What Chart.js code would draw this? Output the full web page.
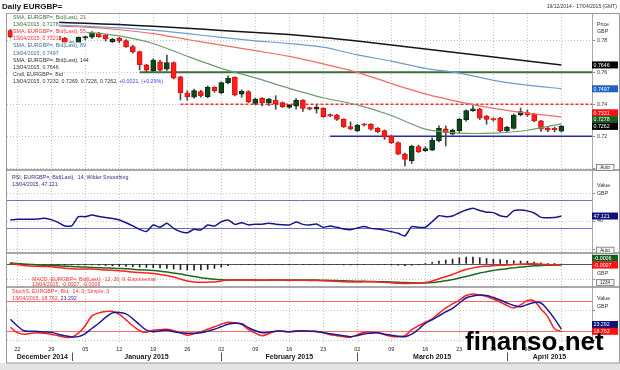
<!DOCTYPE html>
<html>
<head>
<meta charset="utf-8">
<title>Daily EURGBP=</title>
<script src="https://cdn.jsdelivr.net/npm/chart.js@4.4.1/dist/chart.umd.min.js"></script>
<style>
  html, body { margin: 0; padding: 0; background: #fff; }
  #wrap { width: 620px; height: 370px; position: relative; }
  canvas { display: block; }
</style>
</head>
<body>
<div id="wrap"><canvas id="chart" width="620" height="370"></canvas></div>
<script>
// trading days shown on the axis (last four are still empty)
const dates = [
  '19/12/2014',
  '22/12/2014', '23/12/2014', '24/12/2014', '25/12/2014', '26/12/2014',
  '29/12/2014', '30/12/2014', '31/12/2014', '01/01/2015', '02/01/2015',
  '05/01/2015', '06/01/2015', '07/01/2015', '08/01/2015', '09/01/2015',
  '12/01/2015', '13/01/2015', '14/01/2015', '15/01/2015', '16/01/2015',
  '19/01/2015', '20/01/2015', '21/01/2015', '22/01/2015', '23/01/2015',
  '26/01/2015', '27/01/2015', '28/01/2015', '29/01/2015', '30/01/2015',
  '02/02/2015', '03/02/2015', '04/02/2015', '05/02/2015', '06/02/2015',
  '09/02/2015', '10/02/2015', '11/02/2015', '12/02/2015', '13/02/2015',
  '16/02/2015', '17/02/2015', '18/02/2015', '19/02/2015', '20/02/2015',
  '23/02/2015', '24/02/2015', '25/02/2015', '26/02/2015', '27/02/2015',
  '02/03/2015', '03/03/2015', '04/03/2015', '05/03/2015', '06/03/2015',
  '09/03/2015', '10/03/2015', '11/03/2015', '12/03/2015', '13/03/2015',
  '16/03/2015', '17/03/2015', '18/03/2015', '19/03/2015', '20/03/2015',
  '23/03/2015', '24/03/2015', '25/03/2015', '26/03/2015', '27/03/2015',
  '30/03/2015', '31/03/2015', '01/04/2015', '02/04/2015', '03/04/2015',
  '06/04/2015', '07/04/2015', '08/04/2015', '09/04/2015', '10/04/2015',
  '13/04/2015', '14/04/2015', '15/04/2015', '16/04/2015', '17/04/2015'
];

const weekTicks = ['22/12/2014', '29/12/2014', '05/01/2015', '12/01/2015', '19/01/2015', '26/01/2015',
  '02/02/2015', '09/02/2015', '16/02/2015', '23/02/2015', '02/03/2015', '09/03/2015', '16/03/2015',
  '23/03/2015', '30/03/2015', '06/04/2015', '13/04/2015'];
const weekTickLabels = ['22', '29', '05', '12', '19', '26', '02', '09', '16', '23', '02', '09', '16', '23', '30', '06', '13'];

const monthNames = ['December 2014', 'January 2015', 'February 2015', 'March 2015', 'April 2015'];
const monthStarts = ['19/12/2014', '01/01/2015', '02/02/2015', '02/03/2015', '01/04/2015'];

// candles
const open = [
  0.7860, 0.7822, 0.7848, 0.7832, 0.7840, 0.7838, 0.7830, 0.7827, 0.7814, 0.7783,
  0.7777, 0.7815, 0.7819, 0.7845, 0.7833, 0.7792, 0.7812, 0.7798, 0.7760, 0.7729,
  0.7646, 0.7610, 0.7666, 0.7619, 0.7660, 0.7571, 0.7470, 0.7444, 0.7479, 0.7448,
  0.7506, 0.7473, 0.7535, 0.7569, 0.7464, 0.7479, 0.7406, 0.7438, 0.7410, 0.7427,
  0.7410, 0.7381, 0.7389, 0.7427, 0.7379, 0.7369, 0.7375, 0.7330, 0.7333, 0.7306,
  0.7261, 0.7233, 0.7274, 0.7275, 0.7250, 0.7235, 0.7202, 0.7160, 0.7089, 0.7048,
  0.7135, 0.7110, 0.7114, 0.7171, 0.7246, 0.7214, 0.7235, 0.7302, 0.7360, 0.7369,
  0.7327, 0.7308, 0.7312, 0.7235, 0.7250, 0.7333, 0.7348, 0.7338, 0.7296, 0.7250,
  0.7250, 0.7232
];
const high = [
  0.7868, 0.7855, 0.7862, 0.7848, 0.7845, 0.7850, 0.7845, 0.7833, 0.7818, 0.7790,
  0.7822, 0.7827, 0.7855, 0.7850, 0.7836, 0.7812, 0.7818, 0.7805, 0.7768, 0.7733,
  0.7650, 0.7685, 0.7675, 0.7708, 0.7665, 0.7575, 0.7485, 0.7495, 0.7487, 0.7515,
  0.7510, 0.7540, 0.7578, 0.7572, 0.7490, 0.7485, 0.7440, 0.7442, 0.7437, 0.7454,
  0.7415, 0.7400, 0.7435, 0.7430, 0.7382, 0.7395, 0.7378, 0.7340, 0.7338, 0.7310,
  0.7290, 0.7275, 0.7280, 0.7280, 0.7255, 0.7240, 0.7205, 0.7165, 0.7095, 0.7145,
  0.7145, 0.7135, 0.7190, 0.7265, 0.7265, 0.7245, 0.7312, 0.7365, 0.7392, 0.7375,
  0.7332, 0.7315, 0.7318, 0.7262, 0.7340, 0.7377, 0.7365, 0.7345, 0.7300, 0.7260,
  0.7258, 0.7269
];
const low = [
  0.7815, 0.7815, 0.7825, 0.7822, 0.7834, 0.7825, 0.7818, 0.7798, 0.7780, 0.7778,
  0.7770, 0.7802, 0.7812, 0.7818, 0.7795, 0.7786, 0.7785, 0.7755, 0.7720, 0.7615,
  0.7600, 0.7605, 0.7608, 0.7612, 0.7558, 0.7427, 0.7425, 0.7438, 0.7445, 0.7440,
  0.7475, 0.7465, 0.7528, 0.7452, 0.7444, 0.7410, 0.7395, 0.7390, 0.7392, 0.7369,
  0.7380, 0.7375, 0.7370, 0.7355, 0.7365, 0.7345, 0.7318, 0.7322, 0.7300, 0.7255,
  0.7240, 0.7228, 0.7265, 0.7238, 0.7222, 0.7180, 0.7155, 0.7085, 0.7015, 0.7030,
  0.7098, 0.7105, 0.7110, 0.7165, 0.7140, 0.7208, 0.7220, 0.7295, 0.7355, 0.7305,
  0.7275, 0.7295, 0.7228, 0.7228, 0.7245, 0.7328, 0.7325, 0.7290, 0.7230, 0.7228,
  0.7228, 0.7226
];
const close = [
  0.7822, 0.7848, 0.7832, 0.7840, 0.7838, 0.7830, 0.7826, 0.7802, 0.7783, 0.7785,
  0.7819, 0.7817, 0.7847, 0.7822, 0.7808, 0.7806, 0.7796, 0.7760, 0.7729, 0.7646,
  0.7614, 0.7677, 0.7614, 0.7660, 0.7563, 0.7473, 0.7448, 0.7485, 0.7452, 0.7506,
  0.7485, 0.7535, 0.7563, 0.7458, 0.7483, 0.7416, 0.7433, 0.7410, 0.7433, 0.7402,
  0.7385, 0.7394, 0.7427, 0.7375, 0.7369, 0.7381, 0.7323, 0.7328, 0.7306, 0.7260,
  0.7246, 0.7270, 0.7270, 0.7244, 0.7229, 0.7195, 0.7160, 0.7089, 0.7056, 0.7139,
  0.7104, 0.7123, 0.7177, 0.7250, 0.7222, 0.7239, 0.7306, 0.7360, 0.7371, 0.7313,
  0.7306, 0.7303, 0.7235, 0.7256, 0.7333, 0.7354, 0.7333, 0.7298, 0.7244, 0.7239,
  0.7241, 0.7262
];

// moving averages at these days
const smaPeriods = [21, 55, 89, 144];
const smaDates = ['29/12/2014', '05/01/2015', '12/01/2015', '19/01/2015', '26/01/2015',
  '02/02/2015', '09/02/2015', '16/02/2015', '23/02/2015', '02/03/2015', '09/03/2015', '16/03/2015',
  '23/03/2015', '30/03/2015', '06/04/2015', '13/04/2015'];
const sma21 = [0.7848, 0.7850, 0.7828, 0.7780, 0.7700, 0.7625, 0.7565, 0.7500, 0.7441,
  0.7396, 0.7330, 0.7245, 0.7220, 0.7220, 0.7238, 0.7278];
const sma55 = [0.7890, 0.7882, 0.7866, 0.7842, 0.7805, 0.7770, 0.7735, 0.7700, 0.7653,
  0.7600, 0.7530, 0.7465, 0.7415, 0.7375, 0.7345, 0.7321];
const sma89 = [0.7897, 0.7888, 0.7878, 0.7864, 0.7842, 0.7818, 0.7797, 0.7780, 0.7757,
  0.7709, 0.7670, 0.7625, 0.7595, 0.7550, 0.7520, 0.7497];
const sma144 = [0.7914, 0.7906, 0.7898, 0.7888, 0.7876, 0.7862, 0.7849, 0.7836, 0.7818,
  0.7795, 0.7770, 0.7745, 0.7720, 0.7696, 0.7671, 0.7646];

// drawn lines on the price pane
const priceLevels = [0.76, 0.74, 0.72];
const priceLevelFrom = ['15/01/2015', '23/01/2015', '24/02/2015'];
const priceTicks = ['0.78', '0.77', '0.76', '0.75', '0.74', '0.73', '0.72', '0.71'];

// RSI 14
const rsi = [
  41.5, 42.4, 42.4, 42.4, 43, 43.8, 42, 38, 33, 33,
  46.2, 46.2, 48.6, 46.5, 45, 43.5, 41.4, 37.5, 33, 28,
  25, 34.3, 31, 36.7, 29.5, 24.8, 23.3, 28.1, 27.1, 34.3,
  32.9, 39, 41.4, 35.2, 37.6, 34.5, 35.5, 35.5, 36.7, 35.5,
  34.8, 34.3, 38.5, 35.2, 34.3, 35.7, 31, 32.9, 31, 28.5,
  27.5, 30, 32, 29.5, 28.5, 27, 24.8, 22.4, 18.6, 31.9,
  31, 31, 39, 47.6, 46.2, 47.1, 51.9, 55.7, 58.1, 55,
  52.6, 52, 47.5, 46.2, 54.8, 55.7, 54.5, 51.5, 45.2, 44.8,
  45, 47.121
];
const rsiBands = [70, 30];
const rsiTicks = ['20', '40', '60'];

// MACD 12, 26, 9
const macd = [
  0.0010, -0.0003, -0.0010, -0.0013, -0.0015, -0.0016, -0.0017, -0.0023, -0.0027, -0.0030,
  -0.0032, -0.0032, -0.0032, -0.0035, -0.0039, -0.0041, -0.0043, -0.0047, -0.0052, -0.0055,
  -0.0058, -0.0061, -0.0068, -0.0074, -0.0084, -0.0097, -0.0110, -0.0116, -0.0118, -0.0117,
  -0.0116, -0.0110, -0.0103, -0.0103, -0.0103, -0.0104, -0.0104, -0.0105, -0.0104, -0.0104,
  -0.0105, -0.0106, -0.0105, -0.0105, -0.0106, -0.0106, -0.0108, -0.0110, -0.0112, -0.0114,
  -0.0116, -0.0116, -0.0115, -0.0115, -0.0116, -0.0118, -0.0121, -0.0124, -0.0126, -0.0125,
  -0.0124, -0.0120, -0.0110, -0.0095, -0.0082, -0.0068, -0.0050, -0.0036, -0.0025, -0.0017,
  -0.0014, -0.0011, -0.0008, -0.0007, -0.0004, -0.0001, 0.0001, 0.0001, -0.0002, -0.0004,
  -0.0006, -0.0007
];
const signal = [
  0.0006, 0.0004, 0.0000, -0.0003, -0.0006, -0.0008, -0.0010, -0.0012, -0.0014, -0.0016,
  -0.0018, -0.0020, -0.0022, -0.0024, -0.0026, -0.0027, -0.0029, -0.0031, -0.0034, -0.0037,
  -0.0039, -0.0042, -0.0046, -0.0051, -0.0058, -0.0065, -0.0073, -0.0081, -0.0088, -0.0094,
  -0.0099, -0.0102, -0.0103, -0.0103, -0.0103, -0.0103, -0.0103, -0.0104, -0.0104, -0.0104,
  -0.0104, -0.0104, -0.0104, -0.0104, -0.0104, -0.0104, -0.0105, -0.0106, -0.0107, -0.0108,
  -0.0110, -0.0111, -0.0112, -0.0113, -0.0114, -0.0115, -0.0116, -0.0118, -0.0120, -0.0121,
  -0.0122, -0.0122, -0.0120, -0.0114, -0.0108, -0.0100, -0.0090, -0.0080, -0.0070, -0.0058,
  -0.0050, -0.0042, -0.0036, -0.0030, -0.0025, -0.0020, -0.0016, -0.0012, -0.0009, -0.0008,
  -0.0007, -0.0006
];
const macdHist = [
  0.0002, -0.0003, -0.0005, -0.0005, -0.0005, -0.0005, -0.0005, -0.0005, -0.0006, -0.0006,
  -0.0006, -0.0006, -0.0006, -0.0008, -0.0010, -0.0012, -0.0014, -0.0016, -0.0018, -0.0020,
  -0.0022, -0.0024, -0.0026, -0.0028, -0.0032, -0.0036, -0.0040, -0.0040, -0.0038, -0.0034,
  -0.0028, -0.0020, -0.0010, -0.0003, -0.0002, -0.0002, -0.0002, -0.0002, -0.0002, -0.0002,
  -0.0002, -0.0002, -0.0002, -0.0002, -0.0002, -0.0002, -0.0003, -0.0004, -0.0005, -0.0006,
  -0.0006, -0.0005, -0.0004, -0.0003, -0.0003, -0.0004, -0.0006, -0.0008, -0.0010, -0.0008,
  -0.0005, 0.0002, 0.0010, 0.0019, 0.0026, 0.0032, 0.0040, 0.0044, 0.0045, 0.0041,
  0.0036, 0.0031, 0.0028, 0.0023, 0.0021, 0.0019, 0.0017, 0.0013, 0.0007, 0.0004,
  0.0001, -0.0001
];

// slow stochastic 14, 3, 3
const stochK = [
  27, 16, 13, 15, 16, 15, 13, 10, 7, 7,
  15, 30, 50, 56, 59, 59, 53, 42, 30, 20,
  17, 21, 22, 23, 20, 16, 11, 14, 18, 23,
  28, 33, 37, 36, 33, 22, 15, 10, 14, 19,
  19, 18, 20, 19, 19, 19, 16, 12, 10, 8,
  7, 12, 17, 17, 16, 12, 9, 8, 10, 22,
  30, 37, 44, 55, 66, 74, 82, 91, 94, 92,
  89, 84, 78, 71, 66, 72, 81, 80, 64, 48,
  24, 18.762
];
const stochD = [
  43, 30, 20, 19, 18.5, 17.5, 16.8, 13, 10, 7.5,
  8, 14, 25, 35, 47, 56, 57, 54, 44, 32,
  21, 18, 19.5, 21, 18, 16, 15, 15, 16, 19,
  23, 28, 33, 35, 34, 26, 20, 16, 17, 19,
  19, 18, 19, 20, 19, 18, 16, 14, 12, 10,
  8, 10, 13.5, 15, 16, 13, 11, 9, 8, 13,
  23, 35, 42, 50, 58, 65, 76, 86, 90, 92,
  91, 87, 82, 76, 71, 68.5, 73, 77, 76, 62,
  44, 23.292
];
const stochBands = [80, 20];

// ---- styles
const FONT = '"Liberation Sans", Arial, Helvetica, sans-serif';
const UP = '#0c461b', UP_EDGE = '#05260c', DOWN = '#ff1c1c', DOWN_EDGE = '#e80000';
const smaColors = ['#6f9b6f', '#f36a6a', '#6c9bd2', '#161616'];
const smaText = ['#3f6f3f', '#ff3030', '#3a6ea8', '#333333'];
const smaBox = ['#195c1c', '#ff1010', '#1f62c2', '#000000'];
const levelStyle = [
  { color: '#3d6e3d', width: 2, dash: [] },
  { color: '#ff2a2a', width: 1.6, dash: [3, 2] },
  { color: '#2b2ba6', width: 1.6, dash: [] }
];
const GRID = '#c4c4c4';

const f = (size, bold) => (bold ? 'bold ' : '') + size + 'px ' + FONT;
const n = dates.length;
const last = close.length - 1;
const lastDate = dates[last];
const weekIdx = new Set(weekTicks.map(d => dates.indexOf(d)));

function sparse(days, values) {
  const out = new Array(n).fill(null);
  days.forEach((d, k) => { out[dates.indexOf(d)] = values[k]; });
  return out;
}
const smaSeries = [sma21, sma55, sma89, sma144];

const priceAxis = {
  position: 'right', stack: 'panes', stackWeight: 156, weight: 1,
  min: 0.69894, max: 0.79644,
  ticks: {
    stepSize: 0.01, includeBounds: false, padding: 2, color: '#333', font: { size: 5.3, family: FONT },
    callback: v => { const s = Number(v).toFixed(2); return priceTicks.includes(s) ? s : ''; }
  }
};
const rsiAxis = {
  position: 'right', stack: 'panes', stackWeight: 83, weight: 2,
  min: -5.7, max: 112.9,
  ticks: {
    stepSize: 20, includeBounds: false, padding: 2, color: '#333', font: { size: 5.3, family: FONT },
    callback: v => rsiTicks.includes(String(v)) ? String(v) : ''
  }
};
const macdAxis = {
  position: 'right', stack: 'panes', stackWeight: 34, weight: 3,
  min: -0.01484, max: 0.0071,
  ticks: { stepSize: 0.01, includeBounds: false, callback: () => '' }
};
const stochAxis = {
  position: 'right', stack: 'panes', stackWeight: 56, weight: 4,
  min: -4.85, max: 108.3,
  ticks: { stepSize: 20, includeBounds: false, callback: () => '' }
};
[priceAxis, rsiAxis, macdAxis, stochAxis].forEach(ax => {
  ax.grid = { color: GRID, lineWidth: 1, drawTicks: true, tickLength: 3, tickColor: '#8a8a8a', tickBorderDash: [] };
  ax.border = { display: true, color: '#a8a8a8', dash: [1, 2] };
  ax.afterFit = s => { s.width = 28; };
});

function textRun(ctx, parts, x, y, bgFrom) {
  let cx = x;
  parts.forEach(([text, color], k) => {
    const w = ctx.measureText(text).width;
    if (bgFrom !== undefined) {
      const bx = k === 0 ? Math.min(bgFrom, cx - 0.5) : cx - 0.5;
      ctx.fillStyle = '#fff';
      ctx.fillRect(bx, y - 3.6, cx + w + 0.5 - bx, 7.2);
    }
    ctx.fillStyle = color;
    ctx.fillText(text, cx, y);
    cx += w;
  });
}

function valueBoxes(ctx, scale, items, x, w) {
  const h = 7, gap = 6.8;
  const list = items.map(it => Object.assign({}, it, { y: scale.getPixelForValue(it.value) }))
    .sort((a, b) => a.y - b.y);
  for (let i = list.length - 2; i >= 0; i--) list[i].y = Math.min(list[i].y, list[i + 1].y - gap);
  ctx.font = f(5.3);
  ctx.textAlign = 'left';
  list.forEach(it => {
    ctx.fillStyle = it.color;
    ctx.fillRect(x, it.y - h / 2, w, h);
    ctx.fillStyle = '#fff';
    ctx.fillText(it.text, x + 1.5, it.y + 0.4);
  });
}

function button(ctx, text, x, y) {
  ctx.fillStyle = '#f4f4f4';
  ctx.fillRect(x, y - 3, 18, 6);
  ctx.strokeStyle = '#777';
  ctx.lineWidth = 0.8;
  ctx.strokeRect(x + 0.5, y - 3, 17.5, 6);
  ctx.fillStyle = '#333';
  ctx.font = f(4.6);
  ctx.textAlign = 'center';
  ctx.fillText(text, x + 9, y + 0.3);
  ctx.textAlign = 'left';
}

const decor = {
  id: 'decor',
  beforeDatasetsDraw(chart) {
    const { ctx, chartArea: a, scales: s } = chart;
    ctx.save();
    ctx.beginPath();
    ctx.rect(a.left, a.top, a.right - a.left, a.bottom - a.top);
    ctx.clip();
    priceLevels.forEach((v, k) => {
      const st = levelStyle[k];
      const y = s.yPrice.getPixelForValue(v);
      const x0 = s.x.getPixelForTick(dates.indexOf(priceLevelFrom[k]));
      ctx.strokeStyle = st.color;
      ctx.lineWidth = st.width;
      ctx.setLineDash(st.dash);
      ctx.beginPath(); ctx.moveTo(x0, y); ctx.lineTo(a.right, y); ctx.stroke();
    });
    ctx.setLineDash([]);
    ctx.lineWidth = 1;
    ctx.strokeStyle = '#7070cc';
    rsiBands.forEach(v => {
      const y = Math.round(s.yRsi.getPixelForValue(v)) + 0.5;
      ctx.beginPath(); ctx.moveTo(a.left, y); ctx.lineTo(a.right, y); ctx.stroke();
    });
    ctx.strokeStyle = '#ff6a6a';
    stochBands.forEach(v => {
      const y = Math.round(s.ySto.getPixelForValue(v)) + 0.5;
      ctx.beginPath(); ctx.moveTo(a.left, y); ctx.lineTo(a.right, y); ctx.stroke();
    });
    ctx.strokeStyle = '#555';
    const y0 = Math.round(s.yMacd.getPixelForValue(0)) + 0.5;
    ctx.beginPath(); ctx.moveTo(a.left, y0); ctx.lineTo(a.right, y0); ctx.stroke();
    ctx.restore();
  },
  afterDraw(chart) {
    const { ctx, chartArea: a, scales: s } = chart;
    const W = chart.width;
    ctx.save();
    ctx.textBaseline = 'middle';

    // frame and pane separators
    ctx.fillStyle = '#e4e4e4';
    ctx.fillRect(0, 363, W, 7);
    ctx.strokeStyle = '#9a9a9a';
    ctx.lineWidth = 1;
    ctx.strokeRect(6.5, 13.5, W - 7, 349.5);
    ctx.strokeStyle = '#8c8c8c';
    ctx.lineWidth = 1.4;
    [s.yPrice.bottom, s.yRsi.bottom, s.yMacd.bottom].forEach(y => {
      ctx.beginPath(); ctx.moveTo(6, y); ctx.lineTo(W, y); ctx.stroke();
    });

    // title
    ctx.fillStyle = '#111';
    ctx.font = f(8, true);
    ctx.fillText('Daily EURGBP=', 2, 7);
    ctx.font = f(5);
    ctx.textAlign = 'right';
    ctx.fillStyle = '#333';
    ctx.fillText(dates[0] + ' - ' + dates[n - 1] + ' (GMT)', 617, 7);
    ctx.textAlign = 'left';

    // price pane legend
    ctx.font = f(5.3);
    const chg = close[last] - close[last - 1];
    const sign = chg >= 0 ? '+' : '';
    const lines = [];
    smaSeries.forEach((arr, k) => {
      lines.push([['SMA, EURGBP=, Bid(Last), ' + smaPeriods[k], smaText[k]]]);
      lines.push([[lastDate + ', ' + arr[arr.length - 1].toFixed(4), smaText[k]]]);
    });
    lines.push([['Cndl, EURGBP=, Bid', '#333']]);
    lines.push([
      [lastDate + ', ' + [open[last], high[last], low[last], close[last]].map(v => v.toFixed(4)).join(', ') + ', ', '#333'],
      [sign + chg.toFixed(4) + ', (' + sign + (chg / close[last - 1] * 100).toFixed(2) + '%)', '#3b3bff']
    ]);
    const pTop = s.yPrice.top;
    const firstCandleTop = s.yPrice.getPixelForValue(high[0]) - 1;
    const firstCandleBottom = s.yPrice.getPixelForValue(low[0]) + 1;
    lines.forEach((parts, k) => {
      const y = pTop + 3.4 + k * 7.15;
      const clear = y + 3.6 < firstCandleTop || y - 3.6 > firstCandleBottom;
      textRun(ctx, parts, 13, y, clear ? a.left + 0.5 : 12.5);
    });

    // RSI legend
    const rTop = s.yRsi.top;
    textRun(ctx, [['RSI, EURGBP=, Bid(Last),  14, Wilder Smoothing', '#2c2c8c']], 12, rTop + 8);
    textRun(ctx, [[lastDate + ', ' + rsi[rsi.length - 1].toFixed(3), '#2c2c8c']], 12, rTop + 15);

    // MACD legend
    const mTop = s.yMacd.top;
    textRun(ctx, [['MACD, EURGBP=, Bid(Last),  12, 26, 9, Exponential', '#ff3030']], 32, mTop + 26.3);
    textRun(ctx, [[lastDate + ', ' + macd[last].toFixed(4) + ', ' + signal[last].toFixed(4), '#ff3030']], 32, mTop + 31.3);

    // Stochastic legend
    const sTop = s.ySto.top;
    textRun(ctx, [['StochS, EURGBP=, Bid,  14, 3, Simple, 3', '#ff3030']], 12, sTop + 4.6);
    textRun(ctx, [[lastDate + ', ' + stochK[last].toFixed(3) + ', ', '#ff3030'],
      [stochD[last].toFixed(3), '#2c2c9c']], 12, sTop + 11.2);

    // right side captions
    const ax = a.right + 5;
    ctx.fillStyle = '#333';
    ctx.font = f(5.3);
    ctx.fillText('Price', ax, pTop + 10.2);
    ctx.fillText('GBP', ax, pTop + 17.2);
    ctx.fillText('Value', ax, rTop + 16);
    ctx.fillText('GBP', ax, rTop + 24);
    ctx.fillText('GBP', ax, mTop + 21);
    ctx.fillText('Value', ax, sTop + 12);
    ctx.fillText('GBP', ax, sTop + 19.7);

    // last value boxes
    valueBoxes(ctx, s.yPrice, smaSeries.map((arr, k) => ({
      value: arr[arr.length - 1], text: arr[arr.length - 1].toFixed(4), color: smaBox[k]
    })).concat([{ value: close[last], text: close[last].toFixed(4), color: '#000' }]), a.right, 26);
    valueBoxes(ctx, s.yRsi, [{ value: rsi[last], text: rsi[last].toFixed(3), color: '#10107a' }], a.right, 26);
    valueBoxes(ctx, s.yMacd, [
      { value: signal[last], text: signal[last].toFixed(4), color: '#195c1c' },
      { value: macd[last], text: macd[last].toFixed(4), color: '#ff1010' }
    ], a.right, 26);
    valueBoxes(ctx, s.ySto, [
      { value: stochD[last], text: stochD[last].toFixed(3), color: '#10107a' },
      { value: stochK[last], text: stochK[last].toFixed(3), color: '#ff1010' }
    ], a.right, 26);

    button(ctx, 'Auto', a.right + 4, s.yPrice.bottom - 2.5);
    button(ctx, 'Auto', a.right + 4, s.yRsi.bottom - 2.8);
    button(ctx, '1234', a.right + 4, s.yMacd.bottom - 4.5);

    // months under the day numbers
    ctx.font = f(7, true);
    ctx.fillStyle = '#222';
    ctx.textAlign = 'center';
    ctx.strokeStyle = '#555';
    ctx.lineWidth = 1;
    monthNames.forEach((m, k) => {
      const i0 = dates.indexOf(monthStarts[k]);
      const xa = k === 0 ? a.left : s.x.getPixelForTick(i0);
      const xb = k < monthNames.length - 1 ? s.x.getPixelForTick(dates.indexOf(monthStarts[k + 1])) : a.right;
      ctx.fillText(m, (xa + xb) / 2 + (k === 0 ? 3 : 0), 357.5);
      if (k > 0) {
        const xs = Math.round(xa) + 0.5;
        ctx.beginPath(); ctx.moveTo(xs, 352.5); ctx.lineTo(xs, 361); ctx.stroke();
      }
    });

    // watermark
    ctx.textAlign = 'left';
    ctx.textBaseline = 'alphabetic';
    ctx.fillStyle = '#000';
    ctx.font = f(26, true);
    ctx.fillText('finanso.net', 465, 350);
    ctx.restore();
  }
};

new Chart(document.getElementById('chart'), {
  type: 'bar',
  data: {
    labels: dates,
    datasets: [
      {
        label: 'SMA 144', type: 'line', yAxisID: 'yPrice', data: sparse(smaDates, sma144),
        borderColor: smaColors[3], borderWidth: 1.5, pointRadius: 0, spanGaps: true, tension: 0.25, order: 1
      },
      {
        label: 'SMA 89', type: 'line', yAxisID: 'yPrice', data: sparse(smaDates, sma89),
        borderColor: smaColors[2], borderWidth: 1.2, pointRadius: 0, spanGaps: true, tension: 0.25, order: 1
      },
      {
        label: 'SMA 55', type: 'line', yAxisID: 'yPrice', data: sparse(smaDates, sma55),
        borderColor: smaColors[1], borderWidth: 1.2, pointRadius: 0, spanGaps: true, tension: 0.25, order: 1
      },
      {
        label: 'SMA 21', type: 'line', yAxisID: 'yPrice', data: sparse(smaDates, sma21),
        borderColor: smaColors[0], borderWidth: 1.2, pointRadius: 0, spanGaps: true, tension: 0.25, order: 1
      },
      {
        label: 'Body', yAxisID: 'yPrice', data: open.map((o, i) => [o, close[i]]),
        backgroundColor: open.map((o, i) => close[i] >= o ? UP : DOWN),
        borderColor: open.map((o, i) => close[i] >= o ? UP_EDGE : DOWN_EDGE),
        borderWidth: 0.8, borderSkipped: false, barThickness: 5, minBarLength: 1.2, grouped: false, order: 4
      },
      {
        label: 'Wick', yAxisID: 'yPrice', data: low.map((l, i) => [l, high[i]]),
        backgroundColor: '#4a4a4a', barThickness: 1, grouped: false, order: 5
      },
      {
        label: 'RSI', type: 'line', yAxisID: 'yRsi', data: rsi,
        borderColor: '#16168a', borderWidth: 1.5, pointRadius: 0, tension: 0.2, order: 1
      },
      {
        label: 'Hist', yAxisID: 'yMacd', data: macdHist,
        backgroundColor: '#222', barThickness: 1, grouped: false, order: 6
      },
      {
        label: 'Signal', type: 'line', yAxisID: 'yMacd', data: signal,
        borderColor: '#1b6a1b', borderWidth: 1.5, pointRadius: 0, tension: 0.3, order: 2
      },
      {
        label: 'MACD', type: 'line', yAxisID: 'yMacd', data: macd,
        borderColor: '#ff2020', borderWidth: 1.5, pointRadius: 0, tension: 0.3, order: 1
      },
      {
        label: '%D', type: 'line', yAxisID: 'ySto', data: stochD,
        borderColor: '#1a1a98', borderWidth: 1.5, pointRadius: 0, tension: 0.35, order: 1
      },
      {
        label: '%K', type: 'line', yAxisID: 'ySto', data: stochK,
        borderColor: '#ff2020', borderWidth: 1.5, pointRadius: 0, tension: 0.35, order: 2
      }
    ]
  },
  options: {
    responsive: false,
    animation: false,
    devicePixelRatio: 1,
    layout: { padding: { left: 7, top: 14, right: 0, bottom: 7 } },
    plugins: { legend: { display: false }, tooltip: { enabled: false } },
    scales: {
      x: {
        type: 'category', offset: true,
        grid: {
          offset: false, drawTicks: false, lineWidth: 1,
          color: ctx => weekIdx.has(ctx.index) ? GRID : 'rgba(0,0,0,0)'
        },
        border: { display: false, dash: [1, 2] },
        ticks: {
          autoSkip: false, maxRotation: 0, minRotation: 0, padding: 3, color: '#222',
          font: { size: 5.5, family: FONT },
          callback: (v, i) => {
            const k = weekTicks.indexOf(dates[i]);
            return k >= 0 ? weekTickLabels[k] : '';
          }
        },
        afterFit: sc => { sc.height = 20; }
      },
      yPrice: priceAxis,
      yRsi: rsiAxis,
      yMacd: macdAxis,
      ySto: stochAxis
    }
  },
  plugins: [decor]
});
</script>
</body>
</html>
